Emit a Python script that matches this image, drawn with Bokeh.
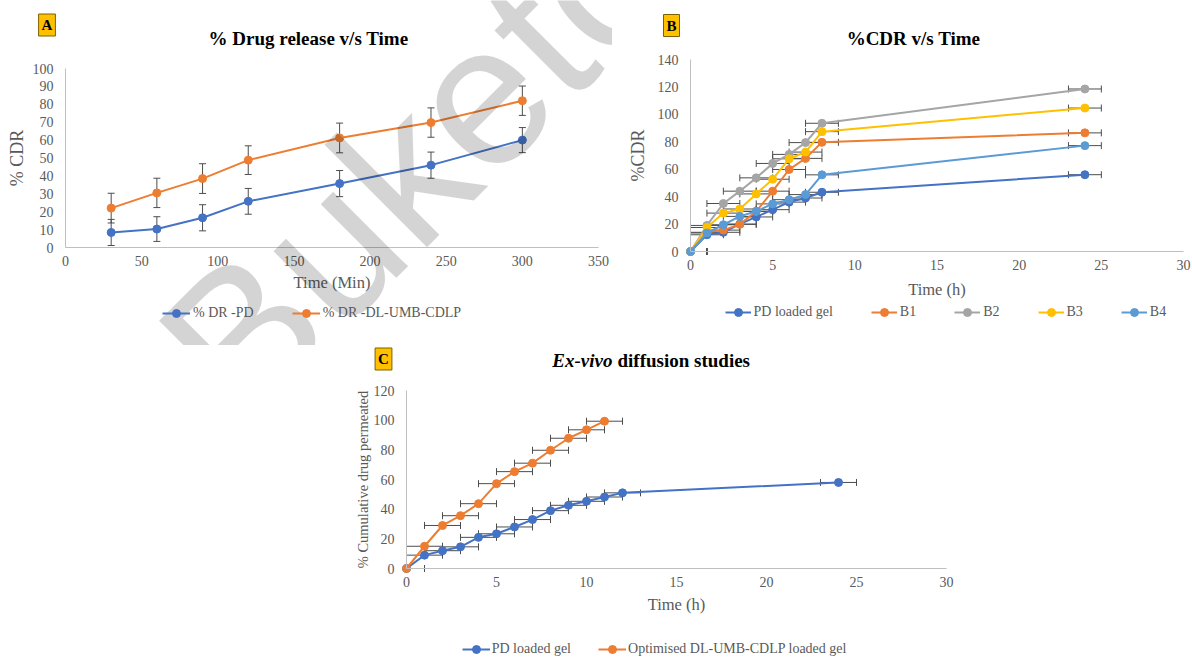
import math
from bokeh.plotting import figure
from bokeh.models import (Range1d, FixedTicker, ColumnDataSource, Whisker, TeeHead,
                          Label, Legend, LegendItem, Spacer)
from bokeh.layouts import column, row
from bokeh.embed import file_html
from bokeh.resources import INLINE

SERIF = "Liberation Serif"
TICK_COLOR = "#595959"
ERR_COLOR = "#4d4d4d"
AXIS_COLOR = "#bfbfbf"

BLUE = "#4472C4"
ORANGE = "#ED7D31"
GRAY = "#A5A5A5"
GOLD = "#FFC000"
LBLUE = "#5B9BD5"

# ---------------- Panel A data ----------------
a_time = [30, 60, 90, 120, 180, 240, 300]
a_pd = [8.4, 10.3, 16.6, 25.8, 35.7, 46.0, 60.0]
a_pd_err = [7.3, 6.9, 7.3, 7.2, 7.3, 7.3, 7.0]
a_dl = [22.0, 30.5, 38.5, 48.8, 61.2, 69.8, 82.0]
a_dl_err = [8.3, 8.2, 8.3, 8.0, 8.3, 8.2, 8.2]
a_xticks = [0, 50, 100, 150, 200, 250, 300, 350]
a_yticks = [0, 10, 20, 30, 40, 50, 60, 70, 80, 90, 100]

# ---------------- Panel B data ----------------
b_time = [0, 1, 2, 3, 4, 5, 6, 7, 8, 24]
b_pd = [0, 12.2, 14.0, 20.0, 25.2, 30.5, 36.0, 39.0, 43.2, 56.0]
b_b1 = [0, 14.0, 15.6, 19.8, 29.3, 44.0, 59.8, 67.9, 79.6, 86.5]
b_b2 = [0, 19.0, 35.0, 44.0, 53.7, 64.2, 70.8, 79.4, 93.5, 118.5]
b_b3 = [0, 17.5, 28.0, 31.0, 42.0, 52.7, 67.6, 72.5, 87.4, 104.6]
b_b4 = [0, 13.5, 19.5, 25.6, 29.3, 34.7, 37.8, 41.5, 55.9, 77.2]
b_xerr = 1.0
b_xticks = [0, 5, 10, 15, 20, 25, 30]
b_yticks = [0, 20, 40, 60, 80, 100, 120, 140]

# ---------------- Panel C data ----------------
c_pd_time = [0, 1, 2, 3, 4, 5, 6, 7, 8, 9, 10, 11, 12, 24]
c_pd = [0, 9.0, 12.0, 14.6, 21.0, 23.4, 28.0, 33.0, 39.0, 42.6, 45.3, 48.2, 51.0, 58.0]
c_dl_time = [0, 1, 2, 3, 4, 5, 6, 7, 8, 9, 10, 11]
c_dl = [0, 15.0, 29.0, 35.6, 43.7, 57.2, 65.3, 71.0, 79.7, 87.8, 93.5, 99.3]
c_xerr = 1.0
c_xticks = [0, 5, 10, 15, 20, 25, 30]
c_yticks = [0, 20, 40, 60, 80, 100, 120]


def make_fig(W, H, fx0, fx1, fy_top, fy_bot, xr, yr, xt, yt, xlabel, ylabel,
             xlab_size, ylab_size, xlab_stand, ylab_stand):
    """The frame covers the whole canvas; data area [xr] x [yr] maps to the
    pixel rectangle fx0..fx1 / fy_bot..fy_top; axes sit at the data origin."""
    sx = (fx1 - fx0) / (xr[1] - xr[0])
    sy = (fy_bot - fy_top) / (yr[1] - yr[0])
    x_start = xr[0] - fx0 / sx
    x_end = xr[0] + (W - fx0) / sx
    y_end = yr[0] + fy_bot / sy
    y_start = yr[0] - (H - fy_bot) / sy
    p = figure(width=W, height=H, x_range=Range1d(x_start, x_end),
               y_range=Range1d(y_start, y_end),
               output_backend="svg", toolbar_location=None, title=None,
               min_border=0, min_border_left=0, min_border_right=0,
               min_border_top=0, min_border_bottom=0)
    p.outline_line_color = None
    p.xgrid.visible = False
    p.ygrid.visible = False
    p.background_fill_color = "white"
    p.border_fill_color = "white"
    p.xaxis.ticker = FixedTicker(ticks=xt, minor_ticks=[])
    p.yaxis.ticker = FixedTicker(ticks=yt, minor_ticks=[])
    p.xaxis.fixed_location = yr[0]
    p.yaxis.fixed_location = xr[0]
    p.xaxis.bounds = xr
    p.yaxis.bounds = yr
    for ax in (p.xaxis[0], p.yaxis[0]):
        ax.axis_line_color = AXIS_COLOR
        ax.axis_line_width = 1
        ax.major_tick_line_color = None
        ax.minor_tick_line_color = None
        ax.major_tick_in = 0
        ax.major_tick_out = 0
        ax.major_label_text_font = SERIF
        ax.major_label_text_font_size = "14px"
        ax.major_label_text_color = TICK_COLOR
        ax.axis_label_text_font = SERIF
        ax.axis_label_text_font_style = "normal"
        ax.axis_label_text_color = TICK_COLOR
    p.xaxis.major_label_standoff = 8
    p.yaxis.major_label_standoff = 12
    p.xaxis.axis_label = xlabel
    p.yaxis.axis_label = ylabel
    p.xaxis.axis_label_text_font_size = xlab_size
    p.yaxis.axis_label_text_font_size = ylab_size
    p.xaxis.axis_label_standoff = xlab_stand
    p.yaxis.axis_label_standoff = ylab_stand
    return p


def series(p, xs, ys, color):
    l = p.line(xs, ys, line_color=color, line_width=2, line_join="round")
    s = p.scatter(xs, ys, size=8, marker="circle", fill_color=color, line_color=color)
    return [l, s]


def head():
    return TeeHead(size=7, line_color=ERR_COLOR, line_width=1)


def yerr(p, xs, ys, errs):
    src = ColumnDataSource(dict(x=xs, lo=[y - e for y, e in zip(ys, errs)],
                                hi=[y + e for y, e in zip(ys, errs)]))
    p.add_layout(Whisker(source=src, base="x", lower="lo", upper="hi",
                         dimension="height", line_color=ERR_COLOR, line_width=1,
                         level="underlay", upper_head=head(), lower_head=head()))


def xerr(p, xs, ys, err, xmin):
    # bars reaching past the value axis are cut at the axis (no cap there)
    full = [(x, y) for x, y in zip(xs, ys) if x - err >= xmin]
    cut = [(x, y) for x, y in zip(xs, ys) if x - err < xmin]
    if full:
        src = ColumnDataSource(dict(y=[v[1] for v in full],
                                    lo=[v[0] - err for v in full],
                                    hi=[v[0] + err for v in full]))
        p.add_layout(Whisker(source=src, base="y", lower="lo", upper="hi",
                             dimension="width", line_color=ERR_COLOR, line_width=1,
                             level="underlay", upper_head=head(), lower_head=head()))
    if cut:
        src = ColumnDataSource(dict(y=[v[1] for v in cut],
                                    lo=[xmin for v in cut],
                                    hi=[v[0] + err for v in cut]))
        p.add_layout(Whisker(source=src, base="y", lower="lo", upper="hi",
                             dimension="width", line_color=ERR_COLOR, line_width=1,
                             level="underlay", upper_head=head(), lower_head=None))


def label(p, H, cx, cy, text, **kw):
    # cx, cy: canvas pixel position from the top-left corner
    p.add_layout(Label(x=cx, y=H - cy, x_units="screen", y_units="screen",
                       text=text, **kw))


def badge(p, H, cx, cy, text):
    label(p, H, cx, cy, text, text_font=SERIF, text_font_size="15px",
          text_font_style="bold", text_color="black", text_align="center",
          text_baseline="middle", background_fill_color=GOLD,
          border_line_color="#7f6000", border_line_width=1, padding=3)


def legend(p, H, items, left, bottom, glyph_w, spacing, standoff):
    lg = Legend(items=[LegendItem(label=t, renderers=r) for t, r in items],
                location=(left, H - bottom), orientation="horizontal",
                border_line_color=None, background_fill_alpha=0,
                padding=0, margin=0, spacing=spacing, glyph_width=glyph_w,
                glyph_height=20, label_height=20, label_width=0,
                label_standoff=standoff, label_text_font=SERIF,
                label_text_font_size="14px", label_text_color=TICK_COLOR)
    p.add_layout(lg)


def title(p, H, cx, cy, text, align="center", style="bold"):
    label(p, H, cx, cy, text, text_font=SERIF, text_font_size="19px",
          text_font_style=style, text_color="black", text_align=align,
          text_baseline="middle")


# ================= Panel A =================
A_W, A_H = 612, 345
pA = make_fig(A_W, A_H, 65, 598, 68, 247, (0, 350), (0, 100),
              a_xticks, a_yticks, "Time (Min)", "% CDR", "16.5px", "18px", 4, 3)
yerr(pA, a_time, a_pd, a_pd_err)
yerr(pA, a_time, a_dl, a_dl_err)
rA1 = series(pA, a_time, a_pd, BLUE)
rA2 = series(pA, a_time, a_dl, ORANGE)
legend(pA, A_H, [("% DR -PD", rA1), ("% DR -DL-UMB-CDLP", rA2)], 162, 323, 28, 38, 3)
title(pA, A_H, 308, 38, "% Drug release v/s Time")
badge(pA, A_H, 46.5, 24.5, "A")
# watermark over panel A
label(pA, A_H, 195, 380, "Buketov", text_font="Liberation Sans",
      text_font_size="200px", text_color="black", text_alpha=0.17,
      text_align="left", text_baseline="alphabetic", angle=math.radians(45))

# ================= Panel B =================
B_X0 = 612
B_W, B_H = 580, 345
pB = make_fig(B_W, B_H, 690 - B_X0, 1183 - B_X0, 59, 251, (0, 30), (0, 140),
              b_xticks, b_yticks, "Time (h)", "%CDR", "16.5px", "18px", 7, 7)
b_series = [("PD loaded gel", b_pd, BLUE), ("B1", b_b1, ORANGE), ("B2", b_b2, GRAY),
            ("B3", b_b3, GOLD), ("B4", b_b4, LBLUE)]
for name, ys, col in b_series:
    xerr(pB, b_time, ys, b_xerr, 0)
b_items = [(name, series(pB, b_time, ys, col)) for name, ys, col in b_series]
legend(pB, B_H, b_items, 724.5 - B_X0, 321.7, 26, 38, 3)
title(pB, B_H, 913 - B_X0, 38, "%CDR v/s Time")
badge(pB, B_H, 671 - B_X0, 25, "B")

# ================= Panel C =================
C_X0, C_Y0 = 340, 345
C_W, C_H = 640, 312
pC = make_fig(C_W, C_H, 406 - C_X0, 946 - C_X0, 390 - C_Y0, 568 - C_Y0, (0, 30), (0, 120),
              c_xticks, c_yticks, "Time (h)", "% Cumulative drug permeated",
              "16.5px", "14.5px", 5, 0)
xerr(pC, c_pd_time, c_pd, c_xerr, 0)
xerr(pC, c_dl_time, c_dl, c_xerr, 0)
rC1 = series(pC, c_pd_time, c_pd, BLUE)
rC2 = series(pC, c_dl_time, c_dl, ORANGE)
legend(pC, C_H, [("PD loaded gel", rC1), ("Optimised DL-UMB-CDLP loaded gel", rC2)],
       461.7 - C_X0, 313.5, 28, 27, 2)
title(pC, C_H, 612 - C_X0, 15, "Ex-vivo", align="right", style="bold italic")
title(pC, C_H, 617 - C_X0, 15, "diffusion studies", align="left")
badge(pC, C_H, 383 - C_X0, 358.5 - C_Y0, "C")

layout = column(row(pA, pB), row(Spacer(width=C_X0, height=C_H), pC))
open("out.html", "w").write(file_html(layout, INLINE))
